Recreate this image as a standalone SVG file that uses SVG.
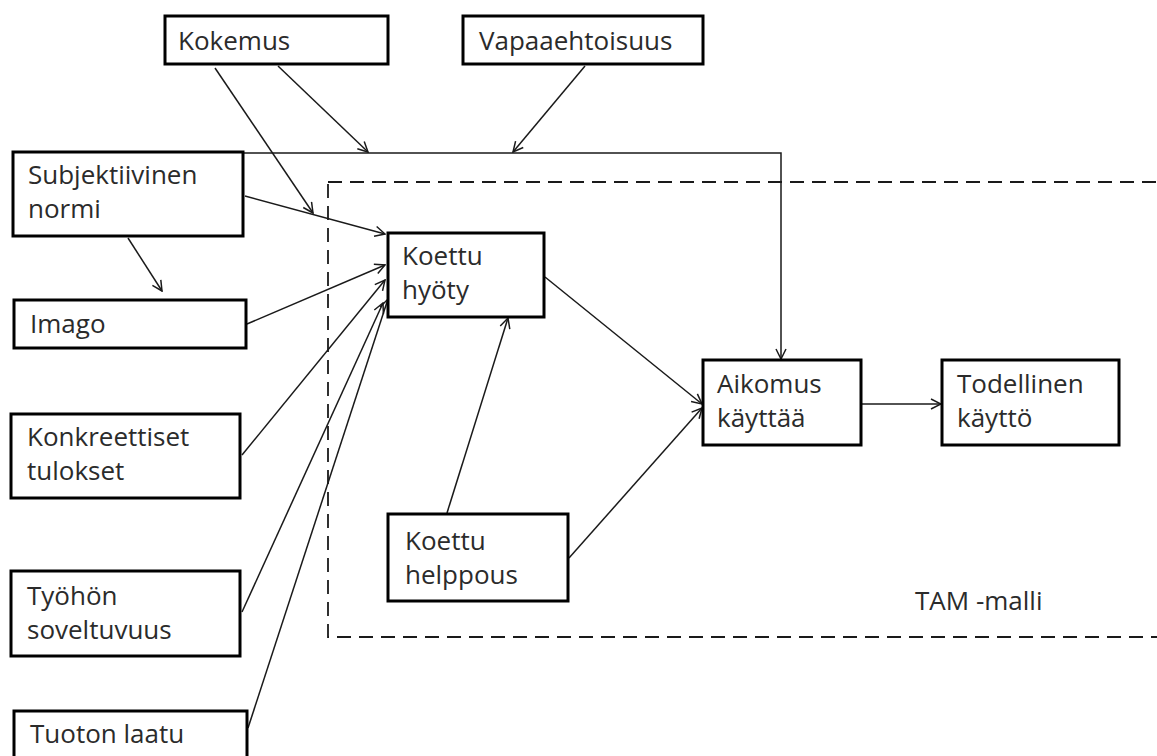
<svg xmlns="http://www.w3.org/2000/svg" width="1157" height="756" viewBox="0 0 1157 756">
<style>
.box{fill:#fff;stroke:#000;stroke-width:3}
.t{font-family:"Open Sans",Lato,"Liberation Sans",sans-serif;font-size:26px;fill:#2b2b2b}
.c{fill:none;stroke:#1a1a1a;stroke-width:1.5}
.a{marker-end:url(#ah)}
.dash{fill:none;stroke:#1a1a1a;stroke-width:1.8;stroke-dasharray:14 8}
</style>
<defs>
<marker id="ah" viewBox="0 0 12 12" refX="11" refY="6" markerWidth="12" markerHeight="12" markerUnits="userSpaceOnUse" orient="auto">
<path d="M1,1 L11,6 L1,11" fill="none" stroke="#1a1a1a" stroke-width="1.5"/>
</marker>
</defs>
<rect width="1157" height="756" fill="#fff"/>
<g id="tam-frame">
<rect class="dash" x="328" y="182" width="840" height="455"/>
<text class="t" x="915" y="610">TAM -malli</text>
</g>
<g id="connectors">
<polyline class="c a" points="243,153 781,153 781,359"/>
<line class="c a" x1="215" y1="68" x2="313" y2="213"/>
<line class="c a" x1="278" y1="66" x2="368" y2="152"/>
<line class="c a" x1="585" y1="66" x2="513" y2="152"/>
<line class="c a" x1="245" y1="196" x2="385" y2="234"/>
<line class="c a" x1="128" y1="238" x2="162" y2="291"/>
<line class="c a" x1="247" y1="324" x2="385" y2="265"/>
<line class="c a" x1="242" y1="455" x2="385" y2="280"/>
<line class="c a" x1="242" y1="612" x2="383" y2="303"/>
<line class="c a" x1="248" y1="728" x2="388" y2="299"/>
<line class="c a" x1="545" y1="277" x2="702" y2="404"/>
<line class="c a" x1="447" y1="513" x2="508" y2="318"/>
<line class="c a" x1="569" y1="558" x2="702" y2="408"/>
<line class="c a" x1="861" y1="404" x2="941" y2="404"/>
</g>
<g id="kokemus"><rect class="box" x="165" y="16" width="223" height="48"/><text class="t" x="178" y="50">Kokemus</text></g>
<g id="vapaaehtoisuus"><rect class="box" x="463" y="16" width="240" height="48"/><text class="t" x="479" y="50">Vapaaehtoisuus</text></g>
<g id="subjektiivinen-normi"><rect class="box" x="13" y="152" width="230" height="84"/><text class="t" x="28" y="184">Subjektiivinen</text><text class="t" x="28" y="218">normi</text></g>
<g id="imago"><rect class="box" x="14" y="300" width="232" height="48"/><text class="t" x="30" y="333">Imago</text></g>
<g id="konkreettiset-tulokset"><rect class="box" x="11" y="414" width="229" height="84"/><text class="t" x="27" y="446">Konkreettiset</text><text class="t" x="27" y="480">tulokset</text></g>
<g id="tyohon-soveltuvuus"><rect class="box" x="11" y="571" width="229" height="85"/><text class="t" x="27" y="605">Työhön</text><text class="t" x="27" y="639">soveltuvuus</text></g>
<g id="tuoton-laatu"><rect class="box" x="14" y="711" width="233" height="60"/><text class="t" x="30" y="743">Tuoton laatu</text></g>
<g id="koettu-hyoty"><rect class="box" x="388" y="233" width="156" height="84"/><text class="t" x="402" y="265">Koettu</text><text class="t" x="402" y="299">hyöty</text></g>
<g id="koettu-helppous"><rect class="box" x="388" y="514" width="180" height="87"/><text class="t" x="405" y="550">Koettu</text><text class="t" x="405" y="584">helppous</text></g>
<g id="aikomus-kayttaa"><rect class="box" x="703" y="360" width="158" height="85"/><text class="t" x="717" y="393">Aikomus</text><text class="t" x="717" y="427">käyttää</text></g>
<g id="todellinen-kaytto"><rect class="box" x="942" y="360" width="177" height="85"/><text class="t" x="957" y="393">Todellinen</text><text class="t" x="957" y="427">käyttö</text></g>
</svg>
